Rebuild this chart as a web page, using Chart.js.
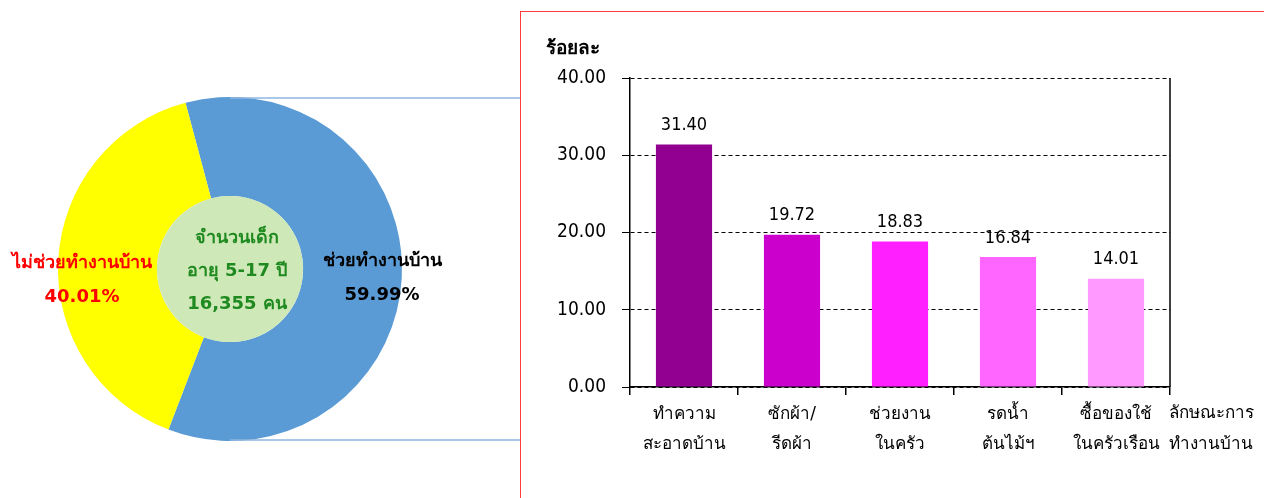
<!DOCTYPE html>
<html>
<head>
<meta charset="utf-8">
<script src="https://cdn.jsdelivr.net/npm/chart.js@4.4.1/dist/chart.umd.min.js"></script>
<style>
  body { margin: 0; background: #fff; width: 1264px; height: 498px; overflow: hidden; position: relative; }
  #pieBox { position: absolute; left: 0; top: 0; width: 520px; height: 498px; }
  #barBox { position: absolute; left: 520px; top: 11px; width: 760px; height: 500px; border: 1px solid #ff3b3b; box-sizing: border-box; }
  #barInner { position: absolute; left: 0; top: 0; width: 743px; height: 487px; }
</style>
</head>
<body>
<div id="pieBox"><canvas id="pieChart"></canvas></div>
<div id="barBox"><div id="barInner"><canvas id="barChart"></canvas></div></div>
<script>
// Doughnut data
const pieLabels = ['ช่วยทำงานบ้าน', 'ไม่ช่วยทำงานบ้าน'];
const pieValues = [59.99, 40.01];
const pieColors = ['#5b9bd5', '#ffff00'];
const pieTextColors = ['#000000', '#ff0000'];
const centerLines = ['จำนวนเด็ก', 'อายุ 5-17 ปี', '16,355 คน'];

// Bar data
const barLabels = [['ทำความ', 'สะอาดบ้าน'], ['ซักผ้า/', 'รีดผ้า'], ['ช่วยงาน', 'ในครัว'], ['รดน้ำ', 'ต้นไม้ฯ'], ['ซื้อของใช้', 'ในครัวเรือน']];
const barValues = [31.40, 19.72, 18.83, 16.84, 14.01];
const barColors = ['#910091', '#cc00cc', '#ff1fff', '#ff66ff', '#ff99ff'];
const yTicks = [0, 10, 20, 30, 40];

const thaiFont = "Tahoma, 'DejaVu Sans', 'Noto Sans', sans-serif";
const narrowFont = "'Liberation Sans Narrow', 'DejaVu Sans Condensed', 'Noto Sans', sans-serif";

// Fill the hole, draw labels and the connector lines
const pieDecor = {
    id: 'pieDecor',
    afterDraw(chart) {
        const ctx = chart.ctx;
        const arc = chart.getDatasetMeta(0).data[0];
        const cx = arc.x, cy = arc.y, r = arc.outerRadius, ir = arc.innerRadius;
        ctx.save();
        ctx.fillStyle = '#cfe8b8';
        ctx.beginPath();
        ctx.arc(cx, cy, ir, 0, Math.PI * 2);
        ctx.fill();

        ctx.strokeStyle = '#8fb6e0';
        ctx.lineWidth = 1.5;
        ctx.beginPath();
        ctx.moveTo(cx, cy - r + 1); ctx.lineTo(chart.width, cy - r + 1);
        ctx.moveTo(cx, cy + r - 1); ctx.lineTo(chart.width, cy + r - 1);
        ctx.stroke();

        ctx.textAlign = 'center';
        ctx.textBaseline = 'middle';
        ctx.font = 'bold 18px ' + thaiFont;
        ctx.fillStyle = '#1f8a1f';
        centerLines.forEach((t, i) => ctx.fillText(t, cx + 7, cy - 31 + i * 33));

        // blue slice label (right), yellow slice label (left)
        ctx.fillStyle = pieTextColors[0];
        ctx.fillText(pieLabels[0], cx + 152, cy - 8);
        ctx.fillText(pieValues[0].toFixed(2) + '%', cx + 152, cy + 26);
        ctx.fillStyle = pieTextColors[1];
        ctx.fillText(pieLabels[1], cx - 148, cy - 6);
        ctx.fillText(pieValues[1].toFixed(2) + '%', cx - 148, cy + 28);
        ctx.restore();
    }
};

new Chart(document.getElementById('pieChart'), {
    type: 'doughnut',
    data: {
        labels: pieLabels,
        datasets: [{
            data: pieValues,
            backgroundColor: pieColors,
            borderWidth: 0
        }]
    },
    options: {
        responsive: true,
        maintainAspectRatio: false,
        animation: false,
        rotation: -15,
        cutout: '42.5%',
        layout: { padding: { left: 58, right: 118, top: 97, bottom: 57 } },
        plugins: { legend: { display: false }, tooltip: { enabled: false } }
    },
    plugins: [pieDecor]
});

// Value labels, right border and axis titles
const barDecor = {
    id: 'barDecor',
    afterDatasetsDraw(chart) {
        const ctx = chart.ctx;
        const area = chart.chartArea;
        ctx.save();
        ctx.strokeStyle = '#000';
        ctx.lineWidth = 1.5;
        ctx.beginPath();
        ctx.moveTo(area.right, area.top);
        ctx.lineTo(area.right, area.bottom);
        ctx.stroke();

        ctx.fillStyle = '#000';
        ctx.textAlign = 'center';
        ctx.textBaseline = 'bottom';
        ctx.font = '18px ' + narrowFont;
        chart.getDatasetMeta(0).data.forEach((bar, i) => {
            ctx.fillText(barValues[i].toFixed(2), bar.x, bar.y - 10);
        });

        ctx.font = 'bold 19px ' + thaiFont;
        ctx.textAlign = 'left';
        ctx.textBaseline = 'middle';
        ctx.fillText('ร้อยละ', 25, 37);

        ctx.font = '17px ' + thaiFont;
        ctx.textAlign = 'center';
        ctx.fillText('ลักษณะการ', area.right + 41, area.bottom + 27);
        ctx.fillText('ทำงานบ้าน', area.right + 41, area.bottom + 58);
        ctx.restore();
    }
};

new Chart(document.getElementById('barChart'), {
    type: 'bar',
    data: {
        labels: barLabels,
        datasets: [{
            data: barValues,
            backgroundColor: barColors,
            borderWidth: 0,
            barPercentage: 0.52,
            categoryPercentage: 1
        }]
    },
    options: {
        responsive: true,
        maintainAspectRatio: false,
        animation: false,
        layout: { padding: { left: 0, right: 94, top: 66, bottom: 0 } },
        plugins: { legend: { display: false }, tooltip: { enabled: false } },
        scales: {
            x: {
                afterFit(scale) { scale.height = 112; },
                grid: { offset: true, drawOnChartArea: false, tickLength: 8, color: '#000', lineWidth: 1.5 },
                border: { color: '#000', width: 1.5 },
                ticks: {
                    color: '#000',
                    font: { family: thaiFont, size: 17, lineHeight: 1.8 },
                    padding: 4,
                    maxRotation: 0
                }
            },
            y: {
                min: 0,
                max: 40,
                afterFit(scale) { scale.width = 109; },
                afterBuildTicks(scale) { scale.ticks = yTicks.map(v => ({ value: v })); },
                grid: { color: '#000', lineWidth: 1, tickLength: 8, tickBorderDash: [0, 0], drawTicks: true },
                border: { color: '#000', width: 1.5, dash: [4, 3] },
                ticks: {
                    color: '#000',
                    padding: 16,
                    font: { family: narrowFont, size: 19 },
                    callback: v => v.toFixed(2)
                }
            }
        }
    },
    plugins: [barDecor]
});
</script>
</body>
</html>
